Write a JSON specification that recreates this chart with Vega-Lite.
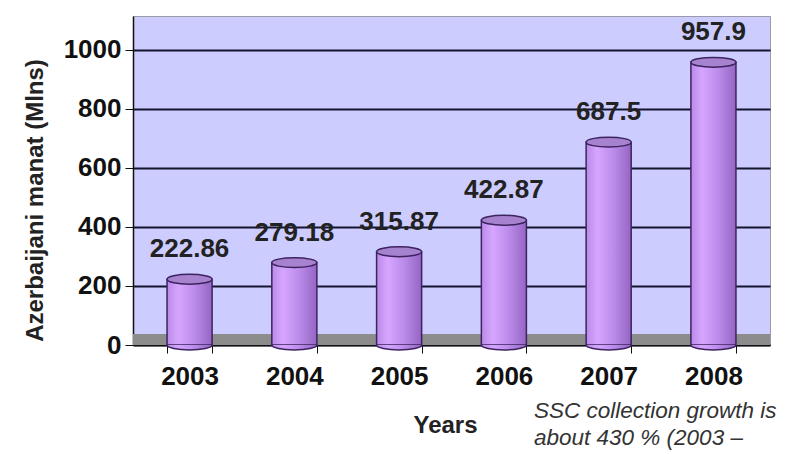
{
  "$schema": "https://vega.github.io/schema/vega-lite/v6.json",
  "autosize": "none",
  "width": 637,
  "height": 329,
  "padding": {"left": 133, "top": 16, "right": 18, "bottom": 109},
  "background": "white",
  "config": {
    "font": "Liberation Sans",
    "view": {"fill": "#ccccff", "stroke": "#9a9aaa", "strokeWidth": 1}
  },
  "title": {
    "text": ["SSC collection growth is", "about 430 % (2003 –"],
    "orient": "bottom",
    "anchor": "start",
    "frame": "group",
    "align": "left",
    "dx": 401,
    "offset": -37,
    "fontSize": 22.5,
    "fontStyle": "italic",
    "fontWeight": "normal",
    "color": "#333333",
    "lineHeight": 27
  },
  "data": {
    "values": [
      {"year": "2003", "value": 222.86, "label": "222.86"},
      {"year": "2004", "value": 279.18, "label": "279.18"},
      {"year": "2005", "value": 315.87, "label": "315.87"},
      {"year": "2006", "value": 422.87, "label": "422.87"},
      {"year": "2007", "value": 687.5, "label": "687.5"},
      {"year": "2008", "value": 957.9, "label": "957.9"}
    ]
  },
  "encoding": {
    "x": {
      "field": "year",
      "type": "nominal",
      "scale": {"paddingInner": 0.57, "paddingOuter": 0.325},
      "axis": {
        "title": "Years",
        "titleFontSize": 24,
        "titleFontWeight": "bold",
        "titleColor": "#222222",
        "titlePadding": 24,
        "titleX": 312,
        "labelAngle": 0,
        "labelFontSize": 26,
        "labelFontWeight": "bold",
        "labelColor": "#111111",
        "labelPadding": 10,
        "tickBand": "extent",
        "tickColor": "#111111",
        "tickSize": 8,
        "domainColor": "#111111",
        "domainWidth": 1.5
      }
    },
    "y": {
      "type": "quantitative",
      "scale": {"domain": [0, 1115], "nice": false},
      "axis": {
        "title": "Azerbaijani manat (Mlns)",
        "titleFontSize": 24,
        "titleFontWeight": "bold",
        "titleColor": "#222222",
        "titlePadding": 16,
        "titleY": 184,
        "values": [0, 200, 400, 600, 800, 1000],
        "format": "d",
        "labelFontSize": 26,
        "labelFontWeight": "bold",
        "labelColor": "#111111",
        "labelPadding": 4,
        "tickColor": "#111111",
        "tickSize": 8,
        "domainColor": "#111111",
        "domainWidth": 1.5,
        "grid": true,
        "gridColor": "#14142e",
        "gridWidth": 2,
        "gridOpacity": 1
      }
    }
  },
  "layer": [
    {
      "mark": {"type": "rect", "color": "#8c8c8c"},
      "encoding": {
        "x": null,
        "y": {"datum": 0, "type": "quantitative"},
        "y2": {"datum": 37}
      }
    },
    {
      "mark": {
        "type": "bar",
        "stroke": "#3d2360",
        "strokeWidth": 1.5,
        "fill": {
          "gradient": "linear",
          "x1": 0, "y1": 0, "x2": 1, "y2": 0,
          "stops": [
            {"offset": 0, "color": "#b98ae6"},
            {"offset": 0.25, "color": "#d6a6ff"},
            {"offset": 0.6, "color": "#bb8cea"},
            {"offset": 1, "color": "#9565c4"}
          ]
        }
      },
      "encoding": {"y": {"field": "value"}}
    },
    {
      "mark": {
        "type": "point",
        "shape": "M -1 0 A 1 0.22 0 0 0 1 0 Z",
        "size": 2025,
        "filled": true,
        "strokeOpacity": 0,
        "fill": {
          "gradient": "linear",
          "x1": 0, "y1": 0, "x2": 1, "y2": 0,
          "stops": [
            {"offset": 0, "color": "#b98ae6"},
            {"offset": 0.25, "color": "#d6a6ff"},
            {"offset": 0.6, "color": "#bb8cea"},
            {"offset": 1, "color": "#9565c4"}
          ]
        },
        "opacity": 1
      },
      "encoding": {"y": {"datum": 0, "type": "quantitative"}}
    },
    {
      "mark": {
        "type": "point",
        "shape": "M -1 0 A 1 0.22 0 0 0 1 0",
        "size": 2025,
        "filled": false,
        "stroke": "#3d2360",
        "strokeWidth": 1.5,
        "opacity": 1
      },
      "encoding": {"y": {"datum": 0, "type": "quantitative"}}
    },
    {
      "mark": {
        "type": "point",
        "shape": "M -1 0 A 1 0.22 0 1 1 1 0 A 1 0.22 0 1 1 -1 0 Z",
        "size": 2025,
        "filled": true,
        "fill": "#a682cf",
        "stroke": "#3d2360",
        "strokeWidth": 1.5,
        "opacity": 1
      },
      "encoding": {"y": {"field": "value"}}
    },
    {
      "mark": {
        "type": "text",
        "dy": -17,
        "fontSize": 26,
        "fontWeight": "bold",
        "color": "#222222",
        "baseline": "bottom"
      },
      "encoding": {
        "y": {"field": "value"},
        "text": {"field": "label"}
      }
    }
  ]
}
